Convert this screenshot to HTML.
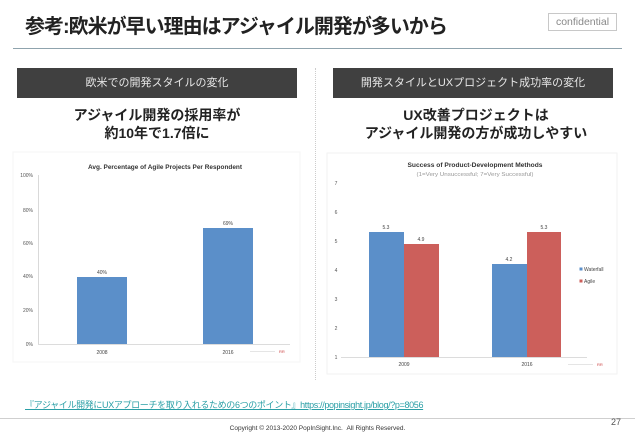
<!DOCTYPE html>
<html><head><meta charset="utf-8">
<style>
html,body{margin:0;padding:0;background:#fff;}
body{width:635px;height:440px;position:relative;overflow:hidden;font-family:"Liberation Sans","Noto Sans CJK JP",sans-serif;}
.a{position:absolute;white-space:nowrap;}
.title{left:25px;top:14px;font-size:20px;font-weight:bold;color:#222;line-height:26px;letter-spacing:-1px;}
.conf{left:548px;top:13px;width:69px;height:18px;border:1px solid #c8c8c8;box-sizing:border-box;font-size:10.5px;color:#888;text-align:center;line-height:17px;}
.rule{left:13px;top:48px;width:609px;height:0;border-top:1.5px solid #8fa3ad;}
.bar{top:68px;height:30px;background:#404040;color:#e6e6e6;font-size:11px;text-align:center;line-height:30px;}
.sub{font-size:14px;font-weight:bold;color:#222;text-align:center;line-height:17.5px;}
.div{left:315px;top:68px;height:312px;border-left:1px dotted #ccc;}
.link{left:25px;top:398px;font-size:9px;color:#2a9fa6;text-decoration:underline;letter-spacing:-0.35px;}
.frule{left:0;top:418px;width:635px;border-top:1px solid #cfcfcf;}
.copy{left:0;width:635px;top:425px;font-size:6.5px;color:#333;text-align:center;}
.pg{left:611px;top:417px;font-size:9px;color:#555;}
</style></head><body>
<div class="a title">参考:欧米が早い理由はアジャイル開発が多いから</div>
<div class="a conf">confidential</div>
<div class="a rule"></div>
<div class="a bar" style="left:17px;width:280px;">欧米での開発スタイルの変化</div>
<div class="a bar" style="left:333px;width:280px;">開発スタイルとUXプロジェクト成功率の変化</div>
<div class="a sub" style="left:17px;width:280px;top:107px;">アジャイル開発の採用率が<br>約10年で1.7倍に</div>
<div class="a sub" style="left:333px;width:286px;top:107px;">UX改善プロジェクトは<br>アジャイル開発の方が成功しやすい</div>
<div class="a div"></div>

<svg class="a" style="left:0;top:0" width="635" height="440" xmlns="http://www.w3.org/2000/svg" font-family="Liberation Sans, sans-serif">
  <rect x="13" y="152" width="287" height="210" fill="none" stroke="#f5f5f5" stroke-width="1"/>
  <text x="165" y="169" font-size="6.5" font-weight="bold" fill="#333" text-anchor="middle" textLength="154" lengthAdjust="spacingAndGlyphs">Avg. Percentage of Agile Projects Per Respondent</text>
  <line x1="38.5" y1="175" x2="38.5" y2="344" stroke="#d0d0d0" stroke-width="0.8"/>
  <line x1="38" y1="344.5" x2="290" y2="344.5" stroke="#d0d0d0" stroke-width="0.8"/>
  <g font-size="5" fill="#555" text-anchor="end">
    <text x="33" y="177">100%</text>
    <text x="33" y="212">80%</text>
    <text x="33" y="245">60%</text>
    <text x="33" y="278">40%</text>
    <text x="33" y="312">20%</text>
    <text x="33" y="346">0%</text>
  </g>
  <rect x="77" y="277" width="50" height="67" fill="#5b8fc9"/>
  <rect x="203" y="228" width="50" height="116" fill="#5b8fc9"/>
  <g font-size="5" fill="#444" text-anchor="middle">
    <text x="102" y="274">40%</text>
    <text x="228" y="225">69%</text>
    <text x="102" y="354">2008</text>
    <text x="228" y="354">2016</text>
  </g>
  <line x1="250" y1="351.5" x2="275" y2="351.5" stroke="#ddd" stroke-width="0.8"/>
  <text x="279" y="353" font-size="4" fill="#c44">RR</text>

  <rect x="327" y="153" width="290" height="221" fill="none" stroke="#f2f2f2" stroke-width="1"/>
  <text x="475" y="167" font-size="6.5" font-weight="bold" fill="#333" text-anchor="middle" textLength="135" lengthAdjust="spacingAndGlyphs">Success of Product-Development Methods</text>
  <text x="475" y="176" font-size="5" fill="#999" text-anchor="middle" textLength="117" lengthAdjust="spacingAndGlyphs">(1=Very Unsuccessful; 7=Very Successful)</text>
  <line x1="341" y1="357.5" x2="587" y2="357.5" stroke="#d0d0d0" stroke-width="0.8"/>
  <g font-size="5" fill="#555" text-anchor="middle">
    <text x="336" y="185">7</text>
    <text x="336" y="214">6</text>
    <text x="336" y="243">5</text>
    <text x="336" y="272">4</text>
    <text x="336" y="301">3</text>
    <text x="336" y="330">2</text>
    <text x="336" y="359">1</text>
  </g>
  <rect x="369" y="232" width="35" height="125" fill="#5b8fc9"/>
  <rect x="404" y="244" width="35" height="113" fill="#cc5f5b"/>
  <rect x="492" y="264" width="35" height="93" fill="#5b8fc9"/>
  <rect x="527" y="232" width="34" height="125" fill="#cc5f5b"/>
  <g font-size="5" fill="#444" text-anchor="middle">
    <text x="386" y="229">5.3</text>
    <text x="421" y="241">4.9</text>
    <text x="509" y="261">4.2</text>
    <text x="544" y="229">5.3</text>
    <text x="404" y="366">2009</text>
    <text x="527" y="366">2016</text>
  </g>
  <rect x="579.5" y="267.5" width="3" height="3" fill="#5b8fc9"/>
  <text x="584" y="271" font-size="5" fill="#444">Waterfall</text>
  <rect x="579.5" y="279.5" width="3" height="3" fill="#cc5f5b"/>
  <text x="584" y="283" font-size="5" fill="#444">Agile</text>
  <line x1="568" y1="364.5" x2="593" y2="364.5" stroke="#ddd" stroke-width="0.8"/>
  <text x="597" y="366" font-size="4" fill="#c44">RR</text>
</svg>

<div class="a link">『アジャイル開発にUXアプローチを取り入れるための6つのポイント』https://popinsight.jp/blog/?p=8056</div>
<div class="a frule"></div>
<div class="a copy">Copyright © 2013-2020 PopInSight.Inc.&nbsp;&nbsp;All Rights Reserved.</div>
<div class="a pg">27</div>
</body></html>
